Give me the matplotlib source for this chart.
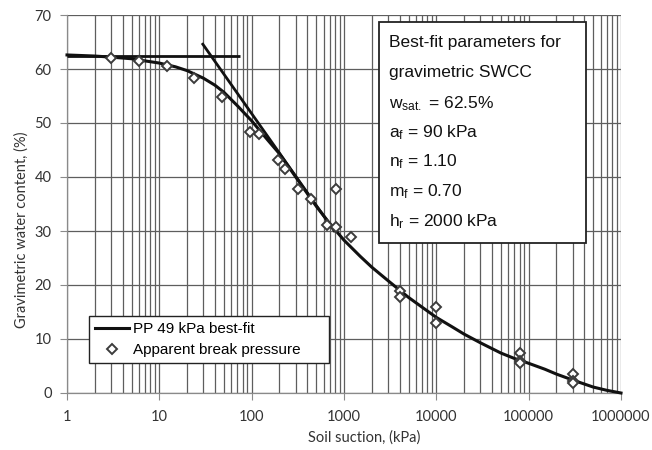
import matplotlib
matplotlib.use("Agg")
from matplotlib import pyplot as plt
from matplotlib.ticker import FixedLocator, FixedFormatter, LogLocator, NullFormatter


# best-fit curve
curve_suction = [1, 2, 3, 5, 7, 10, 15, 20, 30, 40, 50, 70, 100, 150, 200, 300, 500,
                 700, 1000, 1500, 2000, 3000, 5000, 7000, 10000, 15000, 20000, 30000,
                 50000, 70000, 100000, 150000, 200000, 300000, 500000, 700000, 1000000]
curve_w = [62.6, 62.4, 62.2, 61.9, 61.5, 61.1, 60.4, 59.7, 58.3, 57.0, 55.7, 53.2, 50.4,
           46.8, 44.3, 40.0, 34.6, 31.4, 28.3, 25.3, 23.3, 20.8, 17.7, 15.9, 14.0, 12.2,
           10.9, 9.3, 7.4, 6.4, 5.5, 4.4, 3.5, 2.4, 1.1, 0.5, 0.0]

# construction lines
flat_suction = [1, 75]
flat_w = [62.5, 62.5]
slope_suction = [29, 800]
slope_w = [64.8, 29.8]

# apparent break pressure points
pts_suction = [3, 6, 12, 24, 48, 96, 121, 191, 229, 316, 437, 817, 650, 817, 1200,
               4000, 4000, 10000, 10000, 80000, 80000, 80000, 300000, 300000, 300000]
pts_w = [62.0, 61.5, 60.6, 58.3, 54.9, 48.3, 48.0, 43.1, 41.5, 37.7, 36.0, 37.7, 31.2,
         30.8, 28.8, 18.9, 17.8, 15.9, 13.0, 7.4, 6.0, 5.6, 3.6, 2.2, 1.9]

x_ticks = [1, 10, 100, 1000, 10000, 100000, 1000000]
x_labels = ["1", "10", "100", "1000", "10000", "100000", "1000000"]
y_ticks = [0, 10, 20, 30, 40, 50, 60, 70]

params = [
    "Best-fit parameters for",
    "gravimetric SWCC",
    r"$\mathregular{w_{sat.}}$ = 62.5%",
    r"$\mathregular{a_{f}}$ = 90 kPa",
    r"$\mathregular{n_{f}}$ = 1.10",
    r"$\mathregular{m_{f}}$ = 0.70",
    r"$\mathregular{h_{r}}$ = 2000 kPa",
]

AX_FONT = ["Lato", "DejaVu Sans"]
BOX_FONT = ["Liberation Sans", "DejaVu Sans"]
GRID_CLR = "#5e5e5e"

plt.rcParams["mathtext.fontset"] = "custom"
plt.rcParams["mathtext.rm"] = "Liberation Sans"
plt.rcParams["mathtext.it"] = "Liberation Sans"

fig = plt.figure(figsize=(6.52, 4.5), dpi=100)
ax = fig.add_axes([67 / 652, 57 / 450, 554 / 652, 378 / 450])

ax.set_xscale("log")
ax.set_xlim(1, 1e6)
ax.set_ylim(0, 70)

ax.xaxis.set_major_locator(FixedLocator(x_ticks))
ax.xaxis.set_major_formatter(FixedFormatter(x_labels))
ax.xaxis.set_minor_locator(LogLocator(base=10, subs=range(2, 10), numticks=20))
ax.xaxis.set_minor_formatter(NullFormatter())
ax.set_yticks(y_ticks)

ax.grid(True, which="both", axis="x", color=GRID_CLR, lw=0.9)
ax.grid(True, which="major", axis="y", color=GRID_CLR, lw=0.9)
ax.set_axisbelow(True)

for s in ("top", "right"):
    ax.spines[s].set_visible(False)
for s in ("left", "bottom"):
    ax.spines[s].set_color("#8a8a8a")
    ax.spines[s].set_linewidth(0.9)

ax.tick_params(axis="x", which="major", direction="out", length=5, color="#8a8a8a", pad=7)
ax.tick_params(axis="x", which="minor", length=0)
ax.tick_params(axis="y", direction="out", length=5, color="#8a8a8a", pad=6)
for lbl in ax.get_xticklabels() + ax.get_yticklabels():
    lbl.set_family(AX_FONT)
    lbl.set_fontsize(10.5)
    lbl.set_color("#333333")

ax.plot(flat_suction, flat_w, color="#111111", lw=2, solid_capstyle="butt", zorder=3)
ax.plot(slope_suction, slope_w, color="#111111", lw=2, solid_capstyle="butt", zorder=3)
(curve,) = ax.plot(curve_suction, curve_w, color="#111111", lw=2.2, zorder=4,
                   label="PP 49 kPa best-fit", clip_on=False)
(marks,) = ax.plot(pts_suction, pts_w, ls="none", marker="D", ms=5.5, mfc="white",
                   mec="#3c3c3c", mew=1.4, zorder=5, label="Apparent break pressure")

leg = ax.legend(handles=[curve, marks], loc="lower left",
                bbox_to_anchor=(0.040, 0.079, 0.433, 0.149), mode="expand",
                fancybox=False, edgecolor="#222222", framealpha=1, borderaxespad=0,
                handlelength=2.2, handletextpad=0.3, labelspacing=0.45,
                prop={"family": BOX_FONT, "size": 11})
leg.get_frame().set_linewidth(1.0)

# parameter box
box = plt.Rectangle(((379 - 67) / 554, (393 - 243) / 378), 207 / 554, 221 / 378,
                    transform=ax.transAxes, fc="white", ec="#222222", lw=1.3, zorder=5.5)
ax.add_patch(box)
line_px = [43, 73, 104, 133, 162, 192, 222]
for txt, ypx in zip(params, line_px):
    ax.text((389 - 67) / 554, (393 - ypx) / 378, txt, transform=ax.transAxes,
            va="center", ha="left", family=BOX_FONT, fontsize=12.5,
            color="#111111", zorder=6)

ax.set_xlabel("Soil suction, (kPa)", family=AX_FONT, fontsize=10.5, color="#333333")
ax.xaxis.set_label_coords((364 - 67) / 554, -(430 - 393) / 378)
ax.set_ylabel("Gravimetric water content, (%)", family=AX_FONT, fontsize=10.5,
              color="#333333")
ax.yaxis.set_label_coords(-(67 - 29) / 554, (393 - 230) / 378)

fig.savefig("out.png", dpi=100)
